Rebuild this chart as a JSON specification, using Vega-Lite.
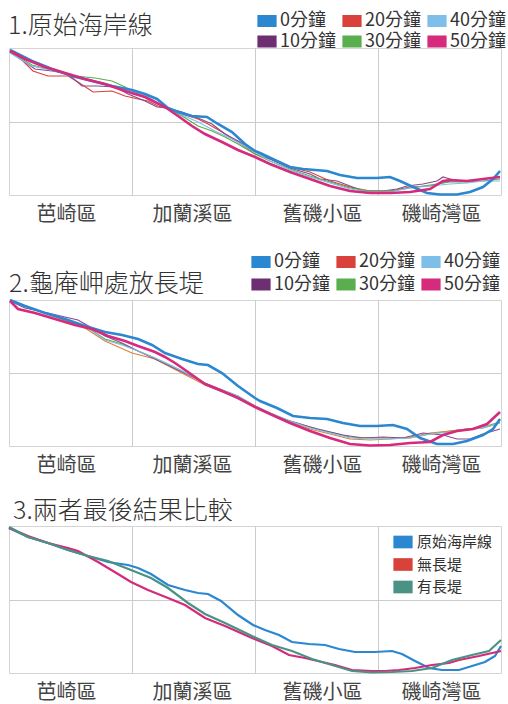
{
  "$schema": "https://vega.github.io/schema/vega-lite/v6.json",
  "background": "white",
  "padding": {"left": 4, "top": 10, "right": 0, "bottom": 0},
  "spacing": 22,
  "resolve": {"scale": {"color": "independent", "stroke": "independent"}, "legend": {"color": "independent", "stroke": "independent"}},
  "config": {
    "font": "Noto Sans CJK TC",
    "view": {"stroke": "#d4d4d4"},
    "title": {"fontSize": 25, "fontWeight": 300, "color": "#333333", "anchor": "start", "frame": "group"},
    "axis": {"gridColor": "#cccccc", "gridWidth": 1}
  },
  "datasets": {
    "p1": [
      {"s":"0分鐘","x":1,"y":145},{"s":"0分鐘","x":23,"y":134},{"s":"0分鐘","x":43,"y":126},{"s":"0分鐘","x":63,"y":119},{"s":"0分鐘","x":83,"y":114},{"s":"0分鐘","x":103,"y":109},{"s":"0分鐘","x":123,"y":105},{"s":"0分鐘","x":136,"y":101},{"s":"0分鐘","x":148,"y":96},{"s":"0分鐘","x":159,"y":87},{"s":"0分鐘","x":169,"y":83},{"s":"0分鐘","x":183,"y":79},{"s":"0分鐘","x":198,"y":78},{"s":"0分鐘","x":209,"y":71},{"s":"0分鐘","x":223,"y":63},{"s":"0分鐘","x":236,"y":51},{"s":"0分鐘","x":246,"y":44},{"s":"0分鐘","x":251,"y":42},{"s":"0分鐘","x":268,"y":34},{"s":"0分鐘","x":281,"y":28},{"s":"0分鐘","x":294,"y":26},{"s":"0分鐘","x":318,"y":24},{"s":"0分鐘","x":331,"y":20},{"s":"0分鐘","x":348,"y":17},{"s":"0分鐘","x":368,"y":17},{"s":"0分鐘","x":381,"y":18},{"s":"0分鐘","x":391,"y":14},{"s":"0分鐘","x":404,"y":8},{"s":"0分鐘","x":418,"y":2},{"s":"0分鐘","x":431,"y":0.5},{"s":"0分鐘","x":448,"y":0.5},{"s":"0分鐘","x":461,"y":3},{"s":"0分鐘","x":474,"y":8},{"s":"0分鐘","x":484,"y":16},{"s":"0分鐘","x":491,"y":24},
      {"s":"50分鐘","x":1,"y":144},{"s":"50分鐘","x":16,"y":136},{"s":"50分鐘","x":36,"y":128},{"s":"50分鐘","x":56,"y":122},{"s":"50分鐘","x":76,"y":116},{"s":"50分鐘","x":96,"y":111},{"s":"50分鐘","x":116,"y":104},{"s":"50分鐘","x":136,"y":98},{"s":"50分鐘","x":156,"y":88},{"s":"50分鐘","x":169,"y":79},{"s":"50分鐘","x":183,"y":69},{"s":"50分鐘","x":196,"y":61},{"s":"50分鐘","x":213,"y":53},{"s":"50分鐘","x":229,"y":45},{"s":"50分鐘","x":246,"y":38},{"s":"50分鐘","x":261,"y":31},{"s":"50分鐘","x":281,"y":23},{"s":"50分鐘","x":301,"y":16},{"s":"50分鐘","x":321,"y":9},{"s":"50分鐘","x":341,"y":4},{"s":"50分鐘","x":361,"y":2},{"s":"50分鐘","x":381,"y":2},{"s":"50分鐘","x":401,"y":3},{"s":"50分鐘","x":421,"y":6},{"s":"50分鐘","x":434,"y":14},{"s":"50分鐘","x":441,"y":15},{"s":"50分鐘","x":458,"y":14},{"s":"50分鐘","x":474,"y":16},{"s":"50分鐘","x":491,"y":18},
      {"s":"20分鐘","x":1,"y":144},{"s":"20分鐘","x":14,"y":134},{"s":"20分鐘","x":24,"y":124},{"s":"20分鐘","x":39,"y":119},{"s":"20分鐘","x":59,"y":119},{"s":"20分鐘","x":69,"y":113},{"s":"20分鐘","x":84,"y":103},{"s":"20分鐘","x":103,"y":104},{"s":"20分鐘","x":116,"y":99},{"s":"20分鐘","x":129,"y":96},{"s":"20分鐘","x":139,"y":94},{"s":"20分鐘","x":149,"y":89},{"s":"20分鐘","x":159,"y":86},{"s":"20分鐘","x":173,"y":81},{"s":"20分鐘","x":189,"y":76},{"s":"20分鐘","x":199,"y":71},{"s":"20分鐘","x":213,"y":63},{"s":"20分鐘","x":229,"y":53},{"s":"20分鐘","x":246,"y":41},{"s":"20分鐘","x":261,"y":36},{"s":"20分鐘","x":281,"y":28},{"s":"20分鐘","x":301,"y":23},{"s":"20分鐘","x":321,"y":14},{"s":"20分鐘","x":341,"y":8},{"s":"20分鐘","x":361,"y":4},{"s":"20分鐘","x":381,"y":4},{"s":"20分鐘","x":401,"y":8},{"s":"20分鐘","x":421,"y":9},{"s":"20分鐘","x":441,"y":14},{"s":"20分鐘","x":458,"y":14},{"s":"20分鐘","x":474,"y":16},{"s":"20分鐘","x":491,"y":18},
      {"s":"10分鐘","x":1,"y":143},{"s":"10分鐘","x":16,"y":133},{"s":"10分鐘","x":26,"y":126},{"s":"10分鐘","x":43,"y":124},{"s":"10分鐘","x":59,"y":121},{"s":"10分鐘","x":73,"y":109},{"s":"10分鐘","x":89,"y":109},{"s":"10分鐘","x":106,"y":108},{"s":"10分鐘","x":119,"y":101},{"s":"10分鐘","x":136,"y":94},{"s":"10分鐘","x":148,"y":88},{"s":"10分鐘","x":159,"y":87},{"s":"10分鐘","x":173,"y":83},{"s":"10分鐘","x":189,"y":77},{"s":"10分鐘","x":203,"y":71},{"s":"10分鐘","x":216,"y":61},{"s":"10分鐘","x":229,"y":54},{"s":"10分鐘","x":246,"y":44},{"s":"10分鐘","x":261,"y":36},{"s":"10分鐘","x":281,"y":27},{"s":"10分鐘","x":301,"y":21},{"s":"10分鐘","x":311,"y":16},{"s":"10分鐘","x":328,"y":14},{"s":"10分鐘","x":341,"y":9},{"s":"10分鐘","x":354,"y":4},{"s":"10分鐘","x":374,"y":4},{"s":"10分鐘","x":388,"y":6},{"s":"10分鐘","x":398,"y":9},{"s":"10分鐘","x":414,"y":11},{"s":"10分鐘","x":428,"y":14},{"s":"10分鐘","x":434,"y":18},{"s":"10分鐘","x":441,"y":16},{"s":"10分鐘","x":451,"y":14},{"s":"10分鐘","x":468,"y":15},{"s":"10分鐘","x":491,"y":18},
      {"s":"30分鐘","x":1,"y":143},{"s":"30分鐘","x":23,"y":130},{"s":"30分鐘","x":46,"y":124},{"s":"30分鐘","x":66,"y":119},{"s":"30分鐘","x":86,"y":117},{"s":"30分鐘","x":103,"y":114},{"s":"30分鐘","x":116,"y":108},{"s":"30分鐘","x":129,"y":101},{"s":"30分鐘","x":143,"y":94},{"s":"30分鐘","x":156,"y":88},{"s":"30分鐘","x":173,"y":79},{"s":"30分鐘","x":189,"y":69},{"s":"30分鐘","x":203,"y":64},{"s":"30分鐘","x":216,"y":58},{"s":"30分鐘","x":229,"y":51},{"s":"30分鐘","x":246,"y":41},{"s":"30分鐘","x":261,"y":34},{"s":"30分鐘","x":281,"y":26},{"s":"30分鐘","x":301,"y":19},{"s":"30分鐘","x":321,"y":13},{"s":"30分鐘","x":341,"y":7},{"s":"30分鐘","x":361,"y":4},{"s":"30分鐘","x":381,"y":4},{"s":"30分鐘","x":401,"y":7},{"s":"30分鐘","x":421,"y":10},{"s":"30分鐘","x":441,"y":13},{"s":"30分鐘","x":458,"y":13},{"s":"30分鐘","x":474,"y":14},{"s":"30分鐘","x":491,"y":16},
      {"s":"40分鐘","x":1,"y":142},{"s":"40分鐘","x":23,"y":129},{"s":"40分鐘","x":46,"y":124},{"s":"40分鐘","x":66,"y":119},{"s":"40分鐘","x":86,"y":114},{"s":"40分鐘","x":106,"y":109},{"s":"40分鐘","x":123,"y":104},{"s":"40分鐘","x":139,"y":98},{"s":"40分鐘","x":156,"y":88},{"s":"40分鐘","x":173,"y":80},{"s":"40分鐘","x":189,"y":73},{"s":"40分鐘","x":206,"y":64},{"s":"40分鐘","x":223,"y":56},{"s":"40分鐘","x":246,"y":43},{"s":"40分鐘","x":261,"y":34},{"s":"40分鐘","x":281,"y":25},{"s":"40分鐘","x":301,"y":18},{"s":"40分鐘","x":321,"y":12},{"s":"40分鐘","x":341,"y":6},{"s":"40分鐘","x":361,"y":3},{"s":"40分鐘","x":381,"y":3},{"s":"40分鐘","x":401,"y":7},{"s":"40分鐘","x":421,"y":9},{"s":"40分鐘","x":441,"y":11},{"s":"40分鐘","x":458,"y":12},{"s":"40分鐘","x":474,"y":14},{"s":"40分鐘","x":491,"y":14}
    ],
    "p2": [
      {"s":"0分鐘","x":1,"y":146},{"s":"0分鐘","x":16,"y":140},{"s":"0分鐘","x":36,"y":133},{"s":"0分鐘","x":56,"y":127},{"s":"0分鐘","x":76,"y":120},{"s":"0分鐘","x":96,"y":114},{"s":"0分鐘","x":113,"y":111},{"s":"0分鐘","x":129,"y":107},{"s":"0分鐘","x":143,"y":101},{"s":"0分鐘","x":156,"y":93},{"s":"0分鐘","x":173,"y":87},{"s":"0分鐘","x":189,"y":82},{"s":"0分鐘","x":199,"y":81},{"s":"0分鐘","x":213,"y":73},{"s":"0分鐘","x":229,"y":60},{"s":"0分鐘","x":246,"y":48},{"s":"0分鐘","x":251,"y":45},{"s":"0分鐘","x":268,"y":38},{"s":"0分鐘","x":284,"y":30},{"s":"0分鐘","x":301,"y":28},{"s":"0分鐘","x":318,"y":27},{"s":"0分鐘","x":334,"y":23},{"s":"0分鐘","x":351,"y":20},{"s":"0分鐘","x":368,"y":20},{"s":"0分鐘","x":384,"y":21},{"s":"0分鐘","x":398,"y":17},{"s":"0分鐘","x":411,"y":8},{"s":"0分鐘","x":428,"y":2},{"s":"0分鐘","x":444,"y":2},{"s":"0分鐘","x":458,"y":5},{"s":"0分鐘","x":474,"y":11},{"s":"0分鐘","x":484,"y":17},{"s":"0分鐘","x":491,"y":27},
      {"s":"50分鐘","x":1,"y":145},{"s":"50分鐘","x":9,"y":137},{"s":"50分鐘","x":26,"y":133},{"s":"50分鐘","x":46,"y":127},{"s":"50分鐘","x":66,"y":121},{"s":"50分鐘","x":83,"y":117},{"s":"50分鐘","x":99,"y":110},{"s":"50分鐘","x":116,"y":105},{"s":"50分鐘","x":129,"y":100},{"s":"50分鐘","x":146,"y":94},{"s":"50分鐘","x":156,"y":89},{"s":"50分鐘","x":166,"y":83},{"s":"50分鐘","x":179,"y":74},{"s":"50分鐘","x":196,"y":62},{"s":"50分鐘","x":213,"y":55},{"s":"50分鐘","x":229,"y":48},{"s":"50分鐘","x":246,"y":39},{"s":"50分鐘","x":261,"y":32},{"s":"50分鐘","x":281,"y":23},{"s":"50分鐘","x":301,"y":15},{"s":"50分鐘","x":321,"y":8},{"s":"50分鐘","x":341,"y":2},{"s":"50分鐘","x":361,"y":0.5},{"s":"50分鐘","x":381,"y":1},{"s":"50分鐘","x":401,"y":3},{"s":"50分鐘","x":421,"y":4},{"s":"50分鐘","x":434,"y":11},{"s":"50分鐘","x":448,"y":15},{"s":"50分鐘","x":464,"y":17},{"s":"50分鐘","x":478,"y":22},{"s":"50分鐘","x":491,"y":34},
      {"s":"30分鐘","x":1,"y":145},{"s":"30分鐘","x":16,"y":140},{"s":"30分鐘","x":36,"y":133},{"s":"30分鐘","x":56,"y":127},{"s":"30分鐘","x":76,"y":120},{"s":"30分鐘","x":96,"y":107},{"s":"30分鐘","x":113,"y":102},{"s":"30分鐘","x":129,"y":95},{"s":"30分鐘","x":146,"y":88},{"s":"30分鐘","x":163,"y":80},{"s":"30分鐘","x":183,"y":70},{"s":"30分鐘","x":199,"y":61},{"s":"30分鐘","x":216,"y":55},{"s":"30分鐘","x":229,"y":50},{"s":"30分鐘","x":246,"y":40},{"s":"30分鐘","x":261,"y":33},{"s":"30分鐘","x":281,"y":25},{"s":"30分鐘","x":301,"y":19},{"s":"30分鐘","x":321,"y":14},{"s":"30分鐘","x":341,"y":9},{"s":"30分鐘","x":361,"y":8},{"s":"30分鐘","x":381,"y":8},{"s":"30分鐘","x":401,"y":8},{"s":"30分鐘","x":421,"y":12},{"s":"30分鐘","x":441,"y":15},{"s":"30分鐘","x":458,"y":17},{"s":"30分鐘","x":474,"y":19},{"s":"30分鐘","x":491,"y":24},
      {"s":"20分鐘","x":1,"y":145},{"s":"20分鐘","x":36,"y":133},{"s":"20分鐘","x":76,"y":118},{"s":"20分鐘","x":96,"y":105},{"s":"20分鐘","x":123,"y":93},{"s":"20分鐘","x":146,"y":87},{"s":"20分鐘","x":169,"y":75},{"s":"20分鐘","x":196,"y":61},{"s":"20分鐘","x":229,"y":48},{"s":"20分鐘","x":246,"y":40},{"s":"20分鐘","x":261,"y":33},{"s":"20分鐘","x":281,"y":24},{"s":"20分鐘","x":301,"y":17},{"s":"20分鐘","x":321,"y":12},{"s":"20分鐘","x":341,"y":7},{"s":"20分鐘","x":361,"y":6},{"s":"20分鐘","x":381,"y":7},{"s":"20分鐘","x":401,"y":9},{"s":"20分鐘","x":421,"y":13},{"s":"20分鐘","x":441,"y":15},{"s":"20分鐘","x":458,"y":17},{"s":"20分鐘","x":474,"y":18},{"s":"20分鐘","x":491,"y":23},
      {"s":"10分鐘","x":1,"y":145},{"s":"10分鐘","x":16,"y":138},{"s":"10分鐘","x":39,"y":133},{"s":"10分鐘","x":56,"y":129},{"s":"10分鐘","x":69,"y":126},{"s":"10分鐘","x":83,"y":118},{"s":"10分鐘","x":96,"y":110},{"s":"10分鐘","x":113,"y":103},{"s":"10分鐘","x":129,"y":95},{"s":"10分鐘","x":146,"y":87},{"s":"10分鐘","x":169,"y":76},{"s":"10分鐘","x":196,"y":63},{"s":"10分鐘","x":223,"y":52},{"s":"10分鐘","x":246,"y":40},{"s":"10分鐘","x":261,"y":32},{"s":"10分鐘","x":278,"y":26},{"s":"10分鐘","x":288,"y":23},{"s":"10分鐘","x":308,"y":17},{"s":"10分鐘","x":334,"y":11},{"s":"10分鐘","x":354,"y":8},{"s":"10分鐘","x":374,"y":9},{"s":"10分鐘","x":394,"y":8},{"s":"10分鐘","x":414,"y":13},{"s":"10分鐘","x":434,"y":11},{"s":"10分鐘","x":448,"y":7},{"s":"10分鐘","x":461,"y":7},{"s":"10分鐘","x":474,"y":12},{"s":"10分鐘","x":491,"y":17},
      {"s":"40分鐘","x":1,"y":145},{"s":"40分鐘","x":16,"y":140},{"s":"40分鐘","x":36,"y":133},{"s":"40分鐘","x":56,"y":127},{"s":"40分鐘","x":76,"y":120},{"s":"40分鐘","x":96,"y":106},{"s":"40分鐘","x":113,"y":101},{"s":"40分鐘","x":129,"y":95},{"s":"40分鐘","x":146,"y":88},{"s":"40分鐘","x":163,"y":80},{"s":"40分鐘","x":183,"y":70},{"s":"40分鐘","x":199,"y":61},{"s":"40分鐘","x":216,"y":55},{"s":"40分鐘","x":229,"y":50},{"s":"40分鐘","x":246,"y":40},{"s":"40分鐘","x":261,"y":33},{"s":"40分鐘","x":281,"y":25},{"s":"40分鐘","x":301,"y":18},{"s":"40分鐘","x":321,"y":13},{"s":"40分鐘","x":341,"y":8},{"s":"40分鐘","x":361,"y":7},{"s":"40分鐘","x":381,"y":7},{"s":"40分鐘","x":401,"y":8},{"s":"40分鐘","x":421,"y":12},{"s":"40分鐘","x":441,"y":14},{"s":"40分鐘","x":458,"y":16},{"s":"40分鐘","x":474,"y":18},{"s":"40分鐘","x":491,"y":23}
    ],
    "p3": [
      {"s":"原始海岸線","x":0,"y":145},{"s":"原始海岸線","x":19,"y":136},{"s":"原始海岸線","x":39,"y":130},{"s":"原始海岸線","x":59,"y":123},{"s":"原始海岸線","x":79,"y":117},{"s":"原始海岸線","x":99,"y":111},{"s":"原始海岸線","x":119,"y":108},{"s":"原始海岸線","x":129,"y":105},{"s":"原始海岸線","x":142,"y":99},{"s":"原始海岸線","x":159,"y":88},{"s":"原始海岸線","x":176,"y":83},{"s":"原始海岸線","x":189,"y":80},{"s":"原始海岸線","x":199,"y":79},{"s":"原始海岸線","x":212,"y":72},{"s":"原始海岸線","x":229,"y":58},{"s":"原始海岸線","x":244,"y":48},{"s":"原始海岸線","x":256,"y":43},{"s":"原始海岸線","x":270,"y":38},{"s":"原始海岸線","x":283,"y":31},{"s":"原始海岸線","x":300,"y":29},{"s":"原始海岸線","x":316,"y":28},{"s":"原始海岸線","x":330,"y":24},{"s":"原始海岸線","x":346,"y":21},{"s":"原始海岸線","x":366,"y":21},{"s":"原始海岸線","x":383,"y":22},{"s":"原始海岸線","x":393,"y":19},{"s":"原始海岸線","x":406,"y":12},{"s":"原始海岸線","x":420,"y":5},{"s":"原始海岸線","x":433,"y":3},{"s":"原始海岸線","x":450,"y":3},{"s":"原始海岸線","x":463,"y":7},{"s":"原始海岸線","x":476,"y":11},{"s":"原始海岸線","x":486,"y":17},{"s":"原始海岸線","x":492,"y":27},
      {"s":"無長堤","x":0,"y":145},{"s":"無長堤","x":19,"y":137},{"s":"無長堤","x":39,"y":130},{"s":"無長堤","x":59,"y":125},{"s":"無長堤","x":69,"y":122},{"s":"無長堤","x":89,"y":111},{"s":"無長堤","x":109,"y":99},{"s":"無長堤","x":122,"y":91},{"s":"無長堤","x":139,"y":83},{"s":"無長堤","x":159,"y":75},{"s":"無長堤","x":176,"y":68},{"s":"無長堤","x":196,"y":55},{"s":"無長堤","x":216,"y":47},{"s":"無長堤","x":243,"y":35},{"s":"無長堤","x":263,"y":27},{"s":"無長堤","x":280,"y":18},{"s":"無長堤","x":296,"y":15},{"s":"無長堤","x":313,"y":11},{"s":"無長堤","x":326,"y":8},{"s":"無長堤","x":343,"y":3},{"s":"無長堤","x":363,"y":2},{"s":"無長堤","x":376,"y":2},{"s":"無長堤","x":390,"y":3},{"s":"無長堤","x":406,"y":5},{"s":"無長堤","x":423,"y":8},{"s":"無長堤","x":440,"y":10},{"s":"無長堤","x":450,"y":13},{"s":"無長堤","x":470,"y":17},{"s":"無長堤","x":492,"y":22},
      {"s":"有長堤","x":0,"y":146},{"s":"有長堤","x":19,"y":136},{"s":"有長堤","x":39,"y":130},{"s":"有長堤","x":59,"y":123},{"s":"有長堤","x":79,"y":117},{"s":"有長堤","x":99,"y":112},{"s":"有長堤","x":122,"y":103},{"s":"有長堤","x":142,"y":95},{"s":"有長堤","x":159,"y":85},{"s":"有長堤","x":179,"y":70},{"s":"有長堤","x":196,"y":59},{"s":"有長堤","x":216,"y":50},{"s":"有長堤","x":243,"y":37},{"s":"有長堤","x":263,"y":28},{"s":"有長堤","x":283,"y":22},{"s":"有長堤","x":303,"y":14},{"s":"有長堤","x":323,"y":8},{"s":"有長堤","x":343,"y":2},{"s":"有長堤","x":363,"y":0.5},{"s":"有長堤","x":383,"y":1},{"s":"有長堤","x":403,"y":2},{"s":"有長堤","x":423,"y":5},{"s":"有長堤","x":443,"y":13},{"s":"有長堤","x":463,"y":18},{"s":"有長堤","x":480,"y":22},{"s":"有長堤","x":492,"y":33}
    ]
  },
  "vconcat": [
    {
      "width": 492, "height": 147,
      "title": {"text": "1.原始海岸線", "offset": -28, "dx": -1},
      "data": {"name": "p1"},
      "resolve": {"scale": {"stroke": "independent", "color": "independent"}},
      "encoding": {
        "x": {"field": "x", "type": "quantitative", "scale": {"domain": [0, 492], "nice": false, "zero": false},
          "axis": {"values": [57, 123, 183, 246, 313, 369, 432], "labelExpr": "datum.value == 57 ? '芭崎區' : datum.value == 183 ? '加蘭溪區' : datum.value == 313 ? '舊磯小區' : datum.value == 432 ? '磯崎灣區' : ''",
            "grid": true, "gridOpacity": {"condition": {"test": "datum.value == 123 || datum.value == 246 || datum.value == 369", "value": 1}, "value": 0},
            "ticks": false, "domain": false, "title": ".", "titleFontSize": 2, "titlePadding": 2.5, "titleOpacity": 0,
            "labelFontSize": 20, "labelColor": "#444444", "labelPadding": 9, "labelOverlap": false, "labelFlush": false}},
        "y": {"field": "y", "type": "quantitative", "scale": {"domain": [0, 147], "nice": false},
          "axis": {"values": [73.5], "labels": false, "ticks": false, "domain": false, "title": null, "grid": true, "minExtent": 0, "maxExtent": 0}}
      },
      "layer": [
        {"transform": [{"filter": "datum.s != '0分鐘' && datum.s != '50分鐘'"}],
         "mark": {"type": "line", "strokeWidth": 1.2},
         "encoding": {"stroke": {"field": "s", "type": "nominal", "legend": null,
           "scale": {"domain": ["0分鐘","20分鐘","40分鐘","10分鐘","30分鐘","50分鐘"], "range": ["#2a87d0","#d9423b","#7dbfe8","#8a4a90","#5aae4e","#d62a7d"]}}}},
        {"transform": [{"filter": "datum.s == '0分鐘' || datum.s == '50分鐘'"}],
         "mark": {"type": "line", "strokeWidth": 2.6},
         "encoding": {"stroke": {"field": "s", "type": "nominal", "legend": null,
           "scale": {"domain": ["0分鐘","20分鐘","40分鐘","10分鐘","30分鐘","50分鐘"], "range": ["#2a87d0","#d9423b","#7dbfe8","#8a4a90","#5aae4e","#d62a7d"]}}}},
        {"mark": {"type": "square", "filled": true, "size": 0, "opacity": 1},
         "encoding": {"x": {"field": "x", "type": "quantitative"}, "y": {"field": "y", "type": "quantitative"},
           "color": {"field": "s", "type": "nominal",
           "scale": {"domain": ["0分鐘","20分鐘","40分鐘","10分鐘","30分鐘","50分鐘"], "range": ["#2a87d0","#d9423b","#7dbfe8","#6e2f72","#5aae4e","#d62a7d"]},
           "legend": {"title": null, "orient": "none", "legendX": 248, "legendY": -37, "columns": 3, "direction": "horizontal", "padding": 0,
             "symbolType": "M-1,-0.625H1V0.625H-1Z", "symbolSize": 369, "symbolStrokeWidth": 0, "symbolOpacity": 1,
             "labelFontSize": 18, "labelColor": "#333333", "labelOffset": 3, "columnPadding": 6, "rowPadding": 1.5, "labelLimit": 200,
             "labelExpr": "datum.label == '0分鐘' ? '\u00a0\u00a0\u00a0' + datum.label : datum.label"}}}}
      ]
    },
    {
      "width": 492, "height": 146,
      "title": {"text": "2.龜庵岬處放長堤", "offset": -45},
      "data": {"name": "p2"},
      "resolve": {"scale": {"stroke": "independent", "color": "independent"}},
      "encoding": {
        "x": {"field": "x", "type": "quantitative", "scale": {"domain": [0, 492], "nice": false, "zero": false},
          "axis": {"values": [57, 123, 183, 246, 313, 369, 432], "labelExpr": "datum.value == 57 ? '芭崎區' : datum.value == 183 ? '加蘭溪區' : datum.value == 313 ? '舊磯小區' : datum.value == 432 ? '磯崎灣區' : ''",
            "grid": true, "gridOpacity": {"condition": {"test": "datum.value == 123 || datum.value == 246 || datum.value == 369", "value": 1}, "value": 0},
            "ticks": false, "domain": false, "title": null,
            "labelFontSize": 20, "labelColor": "#444444", "labelPadding": 9, "labelOverlap": false, "labelFlush": false}},
        "y": {"field": "y", "type": "quantitative", "scale": {"domain": [0, 146], "nice": false},
          "axis": {"values": [73], "labels": false, "ticks": false, "domain": false, "title": null, "grid": true, "minExtent": 0, "maxExtent": 0}}
      },
      "layer": [
        {"transform": [{"filter": "datum.s != '0分鐘' && datum.s != '50分鐘'"}],
         "mark": {"type": "line", "strokeWidth": 1.2},
         "encoding": {"stroke": {"field": "s", "type": "nominal", "legend": null,
           "scale": {"domain": ["0分鐘","20分鐘","40分鐘","10分鐘","30分鐘","50分鐘"], "range": ["#2a87d0","#e0803a","#7dbfe8","#8a4a90","#5aae4e","#d62a7d"]}}}},
        {"transform": [{"filter": "datum.s == '0分鐘' || datum.s == '50分鐘'"}],
         "mark": {"type": "line", "strokeWidth": 2.6},
         "encoding": {"stroke": {"field": "s", "type": "nominal", "legend": null,
           "scale": {"domain": ["0分鐘","20分鐘","40分鐘","10分鐘","30分鐘","50分鐘"], "range": ["#2a87d0","#e0803a","#7dbfe8","#8a4a90","#5aae4e","#d62a7d"]}}}},
        {"mark": {"type": "square", "filled": true, "size": 0, "opacity": 1},
         "encoding": {"x": {"field": "x", "type": "quantitative"}, "y": {"field": "y", "type": "quantitative"},
           "color": {"field": "s", "type": "nominal",
           "scale": {"domain": ["0分鐘","20分鐘","40分鐘","10分鐘","30分鐘","50分鐘"], "range": ["#2a87d0","#d9423b","#7dbfe8","#6e2f72","#5aae4e","#d62a7d"]},
           "legend": {"title": null, "orient": "none", "legendX": 242, "legendY": -48, "columns": 3, "direction": "horizontal", "padding": 0,
             "symbolType": "M-1,-0.625H1V0.625H-1Z", "symbolSize": 369, "symbolStrokeWidth": 0, "symbolOpacity": 1,
             "labelFontSize": 18, "labelColor": "#333333", "labelOffset": 3, "columnPadding": 6, "rowPadding": 3.5, "labelLimit": 200,
             "labelExpr": "datum.label == '0分鐘' ? '\u00a0\u00a0\u00a0' + datum.label : datum.label"}}}}
      ]
    },
    {
      "width": 492, "height": 147,
      "title": {"text": "3.兩者最後結果比較", "offset": -1, "dx": 4},
      "data": {"name": "p3"},
      "resolve": {"scale": {"stroke": "independent", "color": "independent"}},
      "encoding": {
        "x": {"field": "x", "type": "quantitative", "scale": {"domain": [0, 492], "nice": false, "zero": false},
          "axis": {"values": [57, 123, 183, 246, 313, 369, 432], "labelExpr": "datum.value == 57 ? '芭崎區' : datum.value == 183 ? '加蘭溪區' : datum.value == 313 ? '舊磯小區' : datum.value == 432 ? '磯崎灣區' : ''",
            "grid": true, "gridOpacity": {"condition": {"test": "datum.value == 123 || datum.value == 246 || datum.value == 369", "value": 1}, "value": 0},
            "ticks": false, "domain": false, "title": null, "labelFontSize": 20, "labelColor": "#444444", "labelPadding": 9, "labelOverlap": false, "labelFlush": false}},
        "y": {"field": "y", "type": "quantitative", "scale": {"domain": [0, 147], "nice": false},
          "axis": {"values": [73.5], "labels": false, "ticks": false, "domain": false, "title": null, "grid": true, "minExtent": 0, "maxExtent": 0}}
      },
      "layer": [
        {"mark": {"type": "line", "strokeWidth": 2.2},
         "encoding": {"stroke": {"field": "s", "type": "nominal", "legend": null,
           "scale": {"domain": ["原始海岸線","無長堤","有長堤"], "range": ["#2a87d0","#d42a7b","#4a9283"]}}}},
        {"mark": {"type": "square", "filled": true, "size": 0, "opacity": 1},
         "encoding": {"x": {"field": "x", "type": "quantitative"}, "y": {"field": "y", "type": "quantitative"},
           "color": {"field": "s", "type": "nominal",
           "scale": {"domain": ["原始海岸線","無長堤","有長堤"], "range": ["#2a87d0","#d9423b","#4a9283"]},
           "legend": {"title": null, "orient": "none", "legendX": 384, "legendY": 6, "columns": 1, "padding": 0,
             "symbolType": "M-1,-0.66H1V0.66H-1Z", "symbolSize": 369, "symbolStrokeWidth": 0, "symbolOpacity": 1,
             "labelFontSize": 15, "labelColor": "#333333", "labelOffset": 4, "rowPadding": 4.5, "labelLimit": 200}}}}
      ]
    }
  ]
}
